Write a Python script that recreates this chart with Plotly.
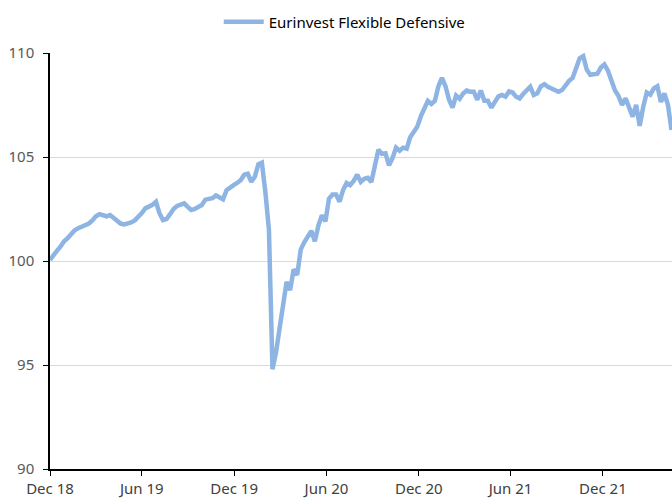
import pandas as pd
import plotly.graph_objects as go

series_name = "Eurinvest Flexible Defensive"
start_date = "2018-12-01"
values = [
    100.05, 100.3, 100.5, 100.7, 100.95, 101.1, 101.3, 101.48, 101.58, 101.65,
    101.73, 101.8, 101.95, 102.15, 102.25, 102.2, 102.15, 102.21, 102.05, 101.9,
    101.8, 101.76, 101.78, 101.85, 101.95, 102.1, 102.3, 102.53, 102.6, 102.7,
    102.85, 102.3, 101.97, 102.02, 102.25, 102.5, 102.65, 102.72, 102.77, 102.6,
    102.45, 102.5, 102.6, 102.69, 102.95, 103.01, 103.02, 103.15, 103.05, 102.97,
    103.4, 103.55, 103.65, 103.75, 103.88, 104.15, 104.2, 103.81, 104.05, 104.65,
    104.73, 103.3, 101.5, 94.8, 95.6, 96.75, 97.98, 99.0, 98.6, 99.6,
    99.33, 100.55, 100.9, 101.15, 101.45, 100.95, 101.7, 102.2, 101.9, 103.0,
    103.2, 103.2, 102.85, 103.41, 103.75, 103.65, 103.85, 104.15, 103.8, 103.95,
    104.0, 103.8, 104.6, 105.35, 105.15, 105.18, 104.6, 104.95, 105.45, 105.3,
    105.45, 105.4, 105.95, 106.25, 106.45, 106.95, 107.4, 107.7, 107.55, 107.7,
    108.4, 108.8, 108.4, 107.75, 107.38, 107.95, 107.8, 108.05, 108.2, 108.14,
    108.14, 107.75, 108.2, 107.7, 107.7, 107.37, 107.65, 107.92, 107.98, 107.9,
    108.15, 108.1, 107.9, 107.82, 108.03, 108.2, 108.38, 107.98, 108.06, 108.4,
    108.5, 108.37, 108.3, 108.2, 108.14, 108.22, 108.45, 108.66, 108.8, 109.25,
    109.75, 109.85, 109.2, 108.95, 109.0, 109.0, 109.3, 109.45, 109.15, 108.6,
    108.2, 107.93, 107.5, 107.82, 107.35, 106.94, 107.5, 106.5, 107.42, 108.1,
    108.0, 108.3, 108.4, 107.65, 108.06, 107.5, 106.3,
]
dates = pd.date_range(start=start_date, periods=len(values), freq="7D")
y_ticks = [90, 95, 100, 105, 110]

font_family = "'Noto Sans', 'Open Sans', sans-serif"
line_color = "#8DB4E2"

fig = go.Figure()
fig.add_trace(go.Scatter(
    x=dates, y=values, mode="lines", name=series_name,
    line=dict(color=line_color, width=4.5),
))

fig.update_layout(
    width=672, height=498,
    margin=dict(l=50, r=0, t=53, b=29, autoexpand=False),
    paper_bgcolor="white", plot_bgcolor="white",
    font=dict(family=font_family, size=14, color="#595959"),
    showlegend=True,
    legend=dict(
        orientation="h", xref="container", yref="container",
        x=0.513, xanchor="center", y=0.956, yanchor="middle",
        font=dict(size=15, color="#000000"),
        itemwidth=40,
    ),
    xaxis=dict(
        type="date",
        range=[dates[0], dates[-1] + pd.Timedelta(days=1)],
        tick0=start_date, dtick="M6", tickformat="%b %y",
        showgrid=False, showline=True, linecolor="#000000", linewidth=1.5,
        ticks="outside", ticklen=5, tickcolor="#000000",
        tickfont=dict(size=15, color="#404040"),
        automargin=False,
    ),
    yaxis=dict(
        range=[90, 110], tickvals=y_ticks,
        showgrid=True, gridcolor="#D9D9D9", gridwidth=1,
        showline=True, linecolor="#000000", linewidth=1.5,
        ticks="outside", ticklen=5, tickcolor="#000000",
        tickfont=dict(size=15, color="#595959"),
        ticklabelstandoff=6,
        zeroline=False, automargin=False,
    ),
)

fig.write_html(
    "out.html",
    config={"displayModeBar": False},
    post_script="document.body.style.margin='0';document.body.style.overflow='hidden';",
)
